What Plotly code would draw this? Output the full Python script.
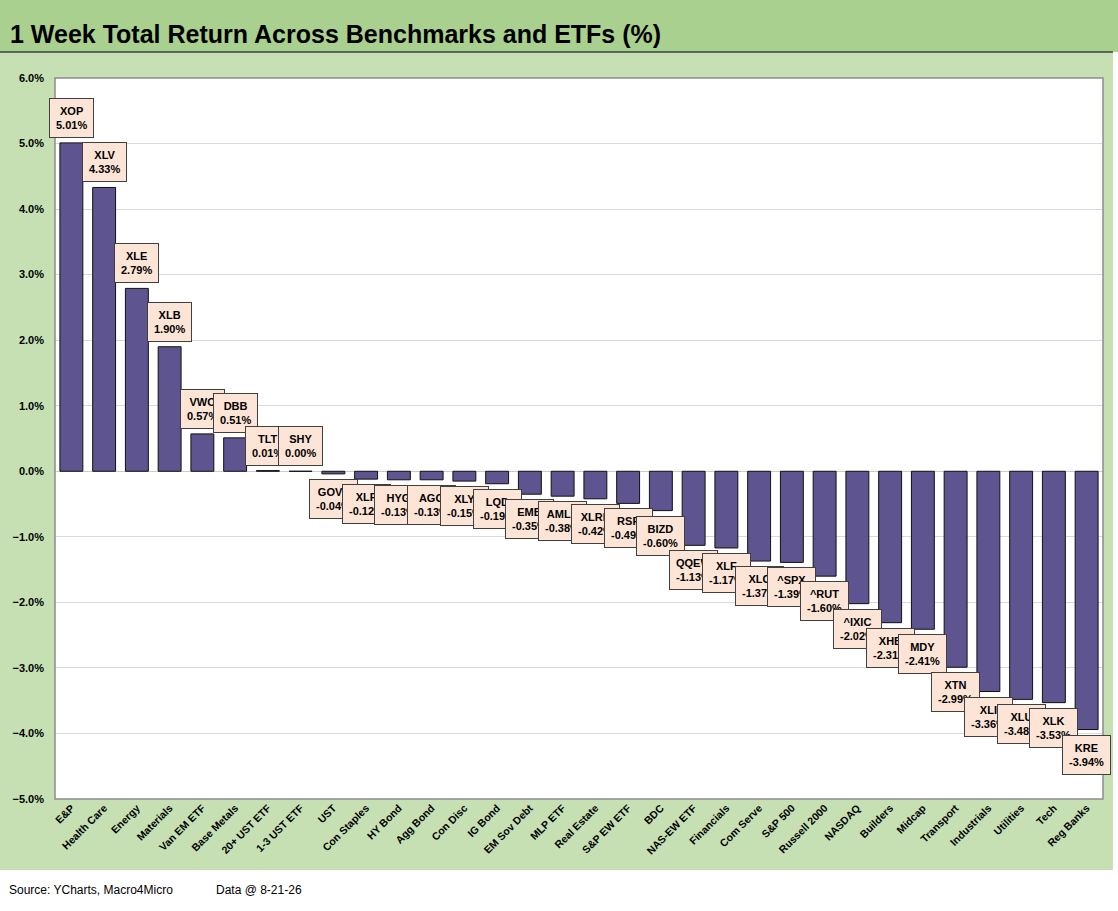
import plotly.graph_objects as go

# categories, tickers and 1 week total returns (%)
categories = ['E&P', 'Health Care', 'Energy', 'Materials', 'Van EM ETF', 'Base Metals',
              '20+ UST ETF', '1-3 UST ETF', 'UST', 'Con Staples', 'HY Bond', 'Agg Bond',
              'Con Disc', 'IG Bond', 'EM Sov Debt', 'MLP ETF', 'Real Estate', 'S&P EW ETF',
              'BDC', 'NAS-EW ETF', 'Financials', 'Com Serve', 'S&P 500', 'Russell 2000',
              'NASDAQ', 'Builders', 'Midcap', 'Transport', 'Industrials', 'Utilities',
              'Tech', 'Reg Banks']
tickers = ['XOP', 'XLV', 'XLE', 'XLB', 'VWO', 'DBB', 'TLT', 'SHY', 'GOVT', 'XLP', 'HYG',
           'AGG', 'XLY', 'LQD', 'EMB', 'AMLP', 'XLRE', 'RSP', 'BIZD', 'QQEW', 'XLF', 'XLC',
           '^SPX', '^RUT', '^IXIC', 'XHB', 'MDY', 'XTN', 'XLI', 'XLU', 'XLK', 'KRE']
returns = [5.01, 4.33, 2.79, 1.90, 0.57, 0.51, 0.01, 0.00, -0.04, -0.12, -0.13, -0.13,
           -0.15, -0.19, -0.35, -0.38, -0.42, -0.49, -0.60, -1.13, -1.17, -1.37, -1.39,
           -1.60, -2.02, -2.31, -2.41, -2.99, -3.36, -3.48, -3.53, -3.94]

font = 'Liberation Sans'

fig = go.Figure(go.Bar(
    x=categories,
    y=[r / 100 for r in returns],
    marker=dict(color='#5E5490', line=dict(color='#111111', width=1)),
    width=0.7,
    hoverinfo='x+y',
))

# data label boxes
for cat, tk, r in zip(categories, tickers, returns):
    fig.add_annotation(
        x=cat, y=r / 100,
        text=f'<b>{tk}</b><br><b>{r:.2f}%</b>',
        showarrow=False,
        yanchor='bottom' if r >= 0 else 'top',
        yshift=5 if r >= 0 else -5,
        font=dict(family=font, size=11, color='black'),
        bgcolor='#FCE4D6', bordercolor='#404040', borderwidth=1, borderpad=6,
    )

# background panels
fig.add_shape(type='rect', xref='paper', yref='paper', x0=-0.06, x1=1.02, y0=1.0361, y1=1.12,
              fillcolor='#A9D08E', line=dict(width=0), layer='below')
fig.add_shape(type='line', xref='paper', yref='paper', x0=-0.06, x1=1.0095, y0=1.0361, y1=1.0361,
              line=dict(color='#404040', width=1.5))
fig.add_shape(type='rect', xref='paper', yref='paper', x0=-0.06, x1=1.02, y0=-0.16, y1=-0.0985,
              fillcolor='white', line=dict(width=0), layer='below')
fig.add_shape(type='rect', xref='paper', yref='paper', x0=1.0095, x1=1.02, y0=-0.16, y1=1.0361,
              fillcolor='white', line=dict(width=0), layer='below')
fig.add_shape(type='rect', xref='paper', yref='paper', x0=0, x1=1, y0=0, y1=1,
              line=dict(color='#8C8C8C', width=1.5))

fig.add_annotation(xref='paper', yref='paper', x=-0.045, y=1.061, xanchor='left', yanchor='middle',
                   text='<b>1 Week Total Return Across Benchmarks and ETFs (%)</b>', showarrow=False,
                   font=dict(family=font, size=25, color='black'))
fig.add_annotation(xref='paper', yref='paper', x=-0.046, y=-0.126, xanchor='left', yanchor='middle',
                   text='Source: YCharts, Macro4Micro', showarrow=False,
                   font=dict(family=font, size=12, color='black'))
fig.add_annotation(xref='paper', yref='paper', x=0.152, y=-0.126, xanchor='left', yanchor='middle',
                   text='Data @ 8-21-26', showarrow=False,
                   font=dict(family=font, size=12, color='black'))

fig.update_layout(
    width=1118, height=911,
    margin=dict(l=52, r=15, t=78, b=112),
    paper_bgcolor='#C6E0B4',
    plot_bgcolor='white',
    showlegend=False,
    font=dict(family=font, color='black'),
)
fig.update_yaxes(range=[-0.05, 0.06], dtick=0.01, tickformat='.1%',
                 gridcolor='#D9D9D9', zeroline=True, zerolinecolor='#CCCCCC', zerolinewidth=1,
                 tickfont=dict(family=font, size=11), ticks='', showline=False,
                 ticklabelstandoff=10, tickprefix='<b>', ticksuffix='</b>')
fig.update_xaxes(tickangle=-45, tickfont=dict(family=font, size=10.5), ticks='',
                 tickprefix='<b>', ticksuffix='</b>', showline=False, range=[-0.5, 31.5])

# drop the default page margin so the figure sits at the window corner
fig.write_html('out.html', config={'displayModeBar': False},
               post_script="document.body.style.margin='0';")
